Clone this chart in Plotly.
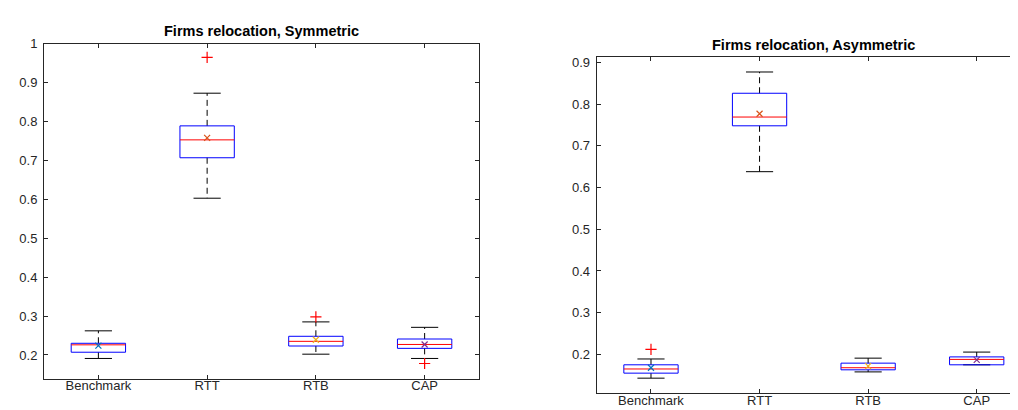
import plotly.graph_objects as go

categories = ["Benchmark", "RTT", "RTB", "CAP"]

# Symmetric (left panel)
sym_q1 = [0.207, 0.707, 0.223, 0.217]
sym_median = [0.226, 0.753, 0.235, 0.227]
sym_q3 = [0.230, 0.789, 0.248, 0.241]
sym_lower = [0.191, 0.603, 0.202, 0.191]
sym_upper = [0.262, 0.873, 0.285, 0.271]
sym_mean = [0.224, 0.758, 0.239, 0.227]
sym_outliers = [[], [0.965], [0.298], [0.178]]

# Asymmetric (right panel)
asy_q1 = [0.155, 0.748, 0.163, 0.175]
asy_median = [0.165, 0.769, 0.168, 0.188]
asy_q3 = [0.175, 0.826, 0.179, 0.194]
asy_lower = [0.143, 0.638, 0.158, 0.175]
asy_upper = [0.189, 0.877, 0.191, 0.2055]
asy_mean = [0.168, 0.777, 0.172, 0.187]
asy_outliers = [[0.212], [], [], []]

mean_colors = ["#0072BD", "#D95319", "#EDB120", "#7E2F8E"]
sym_yticks = [0.2, 0.3, 0.4, 0.5, 0.6, 0.7, 0.8, 0.9, 1.0]
sym_ytext = ["0.2", "0.3", "0.4", "0.5", "0.6", "0.7", "0.8", "0.9", "1"]
asy_yticks = [0.2, 0.3, 0.4, 0.5, 0.6, 0.7, 0.8, 0.9]
asy_ytext = ["0.2", "0.3", "0.4", "0.5", "0.6", "0.7", "0.8", "0.9"]

BOX_HALF = 0.25
CAP_HALF = 0.125
AXC = "#262626"
FONT = "Liberation Sans, Arial, sans-serif"

fig = go.Figure()


def add_panel(xa, ya, q1, med, q3, lo, hi, mean, outl):
    for i in range(len(categories)):
        x = i + 1
        # whiskers (dashed)
        fig.add_trace(go.Scatter(x=[x, x, None, x, x], y=[q3[i], hi[i], None, q1[i], lo[i]],
                                 mode="lines", line=dict(color="black", width=1, dash="6px,4px"),
                                 xaxis=xa, yaxis=ya, showlegend=False, hoverinfo="skip"))
        # caps
        fig.add_trace(go.Scatter(x=[x - CAP_HALF, x + CAP_HALF, None, x - CAP_HALF, x + CAP_HALF],
                                 y=[hi[i], hi[i], None, lo[i], lo[i]],
                                 mode="lines", line=dict(color="black", width=1),
                                 xaxis=xa, yaxis=ya, showlegend=False, hoverinfo="skip"))
        # box
        fig.add_trace(go.Scatter(x=[x - BOX_HALF, x + BOX_HALF, x + BOX_HALF, x - BOX_HALF, x - BOX_HALF],
                                 y=[q1[i], q1[i], q3[i], q3[i], q1[i]],
                                 mode="lines", line=dict(color="#0000FF", width=1),
                                 xaxis=xa, yaxis=ya, showlegend=False, hoverinfo="skip"))
        # median
        fig.add_trace(go.Scatter(x=[x - BOX_HALF, x + BOX_HALF], y=[med[i], med[i]],
                                 mode="lines", line=dict(color="#FF0000", width=1),
                                 xaxis=xa, yaxis=ya, showlegend=False, hoverinfo="skip"))
        # outliers
        if outl[i]:
            fig.add_trace(go.Scatter(x=[x] * len(outl[i]), y=outl[i], mode="markers",
                                     marker=dict(symbol="cross-thin-open", size=8, color="#FF0000",
                                                 line=dict(color="#FF0000", width=1.2)),
                                     xaxis=xa, yaxis=ya, showlegend=False))
        # mean
        fig.add_trace(go.Scatter(x=[x], y=[mean[i]], mode="markers",
                                 marker=dict(symbol="x-thin-open", size=6, color=mean_colors[i],
                                             line=dict(color=mean_colors[i], width=1.2)),
                                 xaxis=xa, yaxis=ya, showlegend=False))


add_panel("x", "y", sym_q1, sym_median, sym_q3, sym_lower, sym_upper, sym_mean, sym_outliers)
add_panel("x2", "y2", asy_q1, asy_median, asy_q3, asy_lower, asy_upper, asy_mean, asy_outliers)

common_x = dict(tickvals=[1, 2, 3, 4], ticktext=categories, ticks="inside", ticklen=4,
                tickcolor=AXC, showline=True, linecolor=AXC, linewidth=1, showgrid=False,
                zeroline=False, ticklabelstandoff=-5,
                tickfont=dict(family=FONT, size=13, color=AXC))
common_y = dict(ticks="inside", ticklen=4, tickcolor=AXC, showline=True, linecolor=AXC,
                linewidth=1, showgrid=False, zeroline=False, ticklabelstandoff=3,
                tickfont=dict(family=FONT, size=13, color=AXC))

fig.update_layout(
    width=1018, height=410,
    margin=dict(l=0, r=0, t=0, b=0),
    paper_bgcolor="white", plot_bgcolor="white",
    xaxis=dict(domain=[36 / 1018, 471 / 1018], range=[0.5, 4.5], mirror="ticks", **common_x),
    yaxis=dict(domain=[1 - 370 / 410, 1 - 29.3 / 410], range=[0.139, 1.0], mirror="ticks",
               tickvals=sym_yticks, ticktext=sym_ytext, **common_y),
    xaxis2=dict(domain=[588.7 / 1018, 1.0], range=[0.5, 4.454], mirror="ticks", anchor="y2", **common_x),
    yaxis2=dict(domain=[1 - 385 / 410, 1 - 42.7 / 410], range=[0.1064, 0.913], mirror=False,
                anchor="x2", tickvals=asy_yticks, ticktext=asy_ytext, **common_y),
    annotations=[
        dict(text="<b>Firms relocation, Symmetric</b>", x=253.5 / 1018, y=1 - 16.7 / 410,
             xref="paper", yref="paper", showarrow=False, xanchor="center", yanchor="middle",
             font=dict(family=FONT, size=14.5, color="black")),
        dict(text="<b>Firms relocation, Asymmetric</b>", x=805.8 / 1018, y=1 - 31 / 410,
             xref="paper", yref="paper", showarrow=False, xanchor="center", yanchor="middle",
             font=dict(family=FONT, size=14.5, color="black")),
    ],
)

fig.write_html("out.html")
